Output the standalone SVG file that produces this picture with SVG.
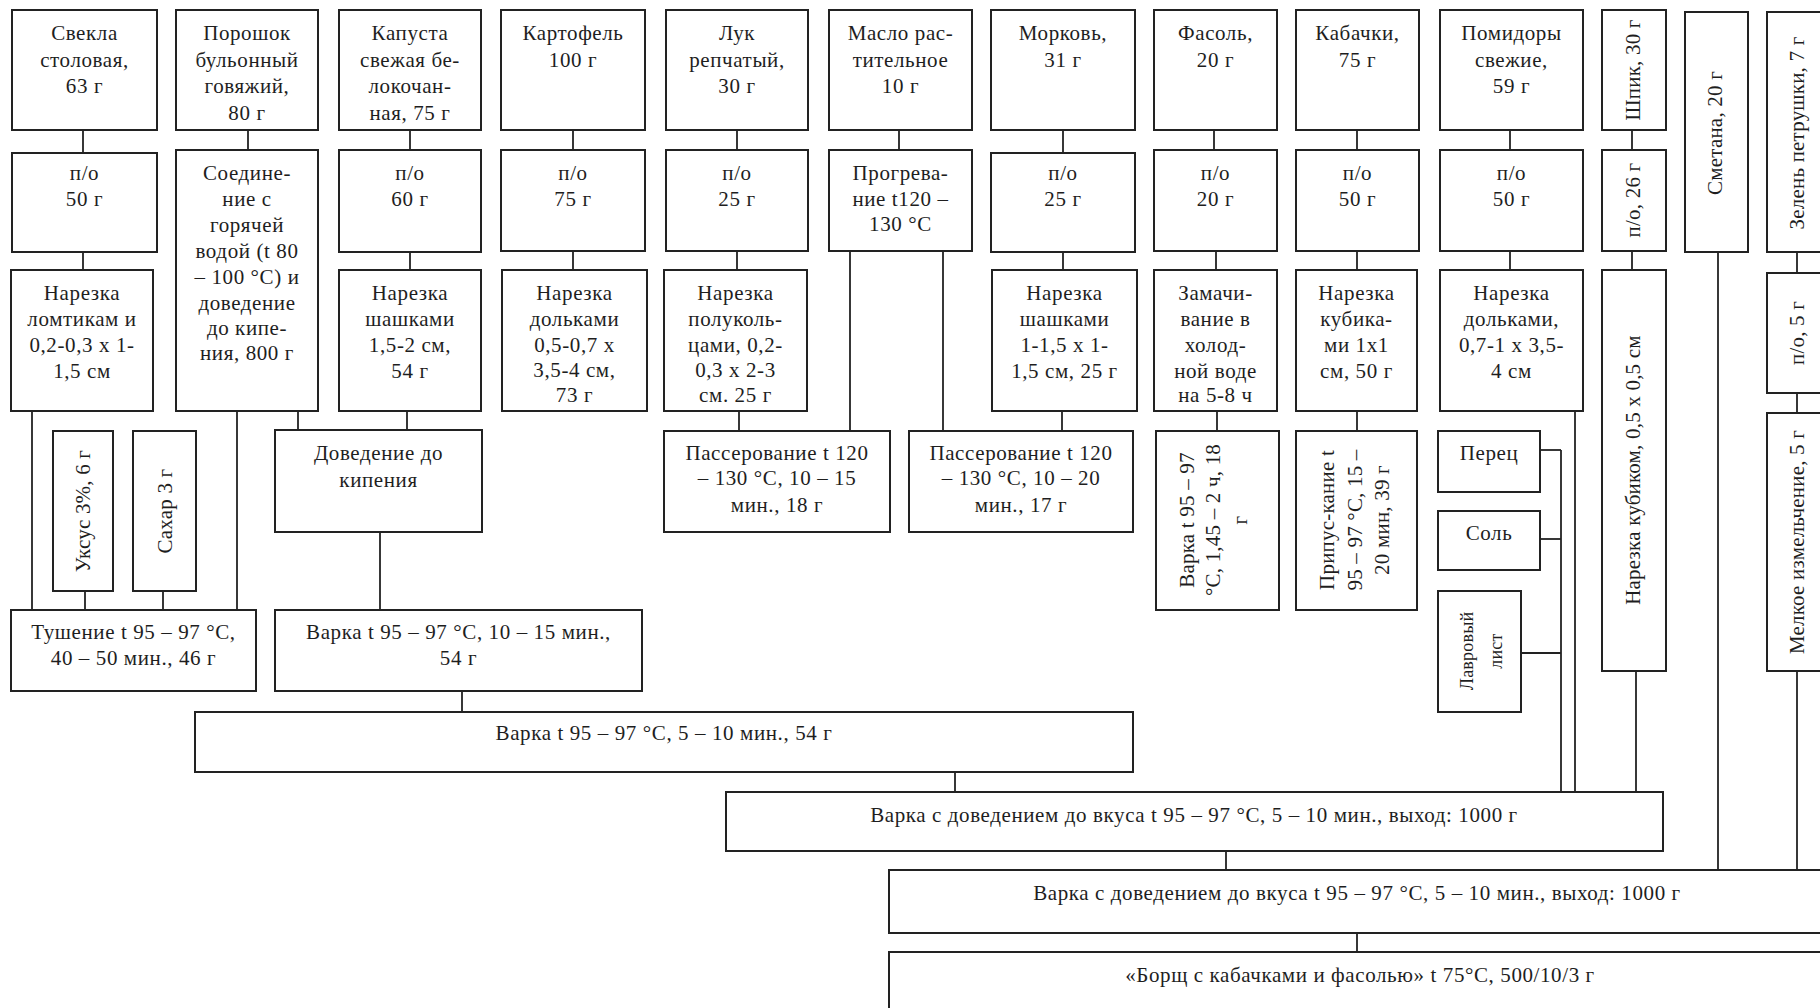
<svg xmlns="http://www.w3.org/2000/svg" width="1820" height="1008" viewBox="0 0 1820 1008">
<style>
.b{fill:#fff;stroke:#222;stroke-width:2}
.t{font-family:"Liberation Serif","Times New Roman",serif;font-size:21px;fill:#1e1e1e;text-anchor:middle;letter-spacing:0.6px}
.r{letter-spacing:0.2px}
.c line{stroke:#222;stroke-width:1.8}
</style>
<rect width="1820" height="1008" fill="#fff"/>
<g class="c" id="connectors">
<line x1="83" y1="130" x2="83" y2="153"/><line x1="83" y1="252" x2="83" y2="270"/>
<line x1="32" y1="411" x2="32" y2="610"/><line x1="85" y1="591" x2="85" y2="610"/><line x1="163" y1="591" x2="163" y2="610"/>
<line x1="248" y1="130" x2="248" y2="150"/><line x1="237" y1="411" x2="237" y2="610"/><line x1="298" y1="411" x2="298" y2="430"/>
<line x1="410" y1="130" x2="410" y2="150"/><line x1="410" y1="252" x2="410" y2="270"/><line x1="407" y1="411" x2="407" y2="430"/>
<line x1="380" y1="532" x2="380" y2="610"/><line x1="462" y1="691" x2="462" y2="712"/>
<line x1="573" y1="130" x2="573" y2="150"/><line x1="573" y1="251" x2="573" y2="270"/>
<line x1="737" y1="130" x2="737" y2="150"/><line x1="737" y1="251" x2="737" y2="270"/><line x1="739" y1="411" x2="739" y2="431"/>
<line x1="899" y1="130" x2="899" y2="150"/><line x1="850" y1="251" x2="850" y2="431"/><line x1="943" y1="251" x2="943" y2="431"/>
<line x1="1063" y1="130" x2="1063" y2="153"/><line x1="1063" y1="252" x2="1063" y2="270"/><line x1="1062" y1="411" x2="1062" y2="431"/>
<line x1="1214" y1="130" x2="1214" y2="150"/><line x1="1216" y1="251" x2="1216" y2="270"/><line x1="1217" y1="411" x2="1217" y2="431"/>
<line x1="1357" y1="130" x2="1357" y2="150"/><line x1="1357" y1="251" x2="1357" y2="270"/><line x1="1357" y1="411" x2="1357" y2="431"/>
<line x1="1510" y1="130" x2="1510" y2="150"/><line x1="1510" y1="251" x2="1510" y2="270"/><line x1="1575" y1="411" x2="1575" y2="792"/>
<line x1="1540" y1="450" x2="1561" y2="450"/><line x1="1561" y1="450" x2="1561" y2="792"/>
<line x1="1540" y1="539" x2="1561" y2="539"/><line x1="1521" y1="653" x2="1561" y2="653"/>
<line x1="1632" y1="130" x2="1632" y2="150"/><line x1="1632" y1="251" x2="1632" y2="270"/><line x1="1636" y1="671" x2="1636" y2="792"/>
<line x1="1718" y1="252" x2="1718" y2="870"/>
<line x1="1797" y1="252" x2="1797" y2="273"/><line x1="1797" y1="393" x2="1797" y2="413"/><line x1="1797" y1="671" x2="1797" y2="870"/>
<line x1="955" y1="772" x2="955" y2="792"/><line x1="1226" y1="851" x2="1226" y2="870"/><line x1="1357" y1="933" x2="1357" y2="952"/>
</g>

<g id="svekla"><rect class="b" x="12" y="10" width="145" height="120"/><text class="t"><tspan x="84.5" y="40">Свекла</tspan><tspan x="84.5" y="67">столовая,</tspan><tspan x="84.5" y="93">63 г</tspan></text></g>
<g id="svekla-po"><rect class="b" x="12" y="153" width="145" height="99"/><text class="t"><tspan x="84.5" y="180">п/о</tspan><tspan x="84.5" y="206">50 г</tspan></text></g>
<g id="svekla-cut"><rect class="b" x="11" y="270" width="142" height="141"/><text class="t"><tspan x="82" y="300">Нарезка</tspan><tspan x="82" y="326">ломтикам и</tspan><tspan x="82" y="352">0,2-0,3 х 1-</tspan><tspan x="82" y="378">1,5 см</tspan></text></g>

<g id="poroshok"><rect class="b" x="176" y="10" width="142" height="120"/><text class="t"><tspan x="247" y="40">Порошок</tspan><tspan x="247" y="67">бульонный</tspan><tspan x="247" y="93">говяжий,</tspan><tspan x="247" y="120">80 г</tspan></text></g>
<g id="poroshok-mix"><rect class="b" x="176" y="150" width="142" height="261"/><text class="t"><tspan x="247" y="180">Соедине-</tspan><tspan x="247" y="206">ние с</tspan><tspan x="247" y="232">горячей</tspan><tspan x="247" y="258">водой (t 80</tspan><tspan x="247" y="284">– 100 °С) и</tspan><tspan x="247" y="310">доведение</tspan><tspan x="247" y="335">до кипе-</tspan><tspan x="247" y="360">ния, 800 г</tspan></text></g>

<g id="kapusta"><rect class="b" x="339" y="10" width="142" height="120"/><text class="t"><tspan x="410" y="40">Капуста</tspan><tspan x="410" y="67">свежая бе-</tspan><tspan x="410" y="93">локочан-</tspan><tspan x="410" y="120">ная, 75 г</tspan></text></g>
<g id="kapusta-po"><rect class="b" x="339" y="150" width="142" height="102"/><text class="t"><tspan x="410" y="180">п/о</tspan><tspan x="410" y="206">60 г</tspan></text></g>
<g id="kapusta-cut"><rect class="b" x="339" y="270" width="142" height="141"/><text class="t"><tspan x="410" y="300">Нарезка</tspan><tspan x="410" y="326">шашками</tspan><tspan x="410" y="352">1,5-2 см,</tspan><tspan x="410" y="378">54 г</tspan></text></g>

<g id="kartofel"><rect class="b" x="501" y="10" width="144" height="120"/><text class="t"><tspan x="573" y="40">Картофель</tspan><tspan x="573" y="67">100 г</tspan></text></g>
<g id="kartofel-po"><rect class="b" x="501" y="150" width="144" height="101"/><text class="t"><tspan x="573" y="180">п/о</tspan><tspan x="573" y="206">75 г</tspan></text></g>
<g id="kartofel-cut"><rect class="b" x="502" y="270" width="145" height="141"/><text class="t"><tspan x="574.5" y="300">Нарезка</tspan><tspan x="574.5" y="326">дольками</tspan><tspan x="574.5" y="352">0,5-0,7 х</tspan><tspan x="574.5" y="377">3,5-4 см,</tspan><tspan x="574.5" y="402">73 г</tspan></text></g>

<g id="luk"><rect class="b" x="666" y="10" width="142" height="120"/><text class="t"><tspan x="737" y="40">Лук</tspan><tspan x="737" y="67">репчатый,</tspan><tspan x="737" y="93">30 г</tspan></text></g>
<g id="luk-po"><rect class="b" x="666" y="150" width="142" height="101"/><text class="t"><tspan x="737" y="180">п/о</tspan><tspan x="737" y="206">25 г</tspan></text></g>
<g id="luk-cut"><rect class="b" x="664" y="270" width="143" height="141"/><text class="t"><tspan x="735.5" y="300">Нарезка</tspan><tspan x="735.5" y="326">полуколь-</tspan><tspan x="735.5" y="352">цами, 0,2-</tspan><tspan x="735.5" y="377">0,3 х 2-3</tspan><tspan x="735.5" y="402">см. 25 г</tspan></text></g>

<g id="maslo"><rect class="b" x="829" y="10" width="143" height="120"/><text class="t"><tspan x="900.5" y="40">Масло рас-</tspan><tspan x="900.5" y="67">тительное</tspan><tspan x="900.5" y="93">10 г</tspan></text></g>
<g id="maslo-heat"><rect class="b" x="829" y="150" width="143" height="101"/><text class="t"><tspan x="900.5" y="180">Прогрева-</tspan><tspan x="900.5" y="206">ние t120 –</tspan><tspan x="900.5" y="231">130 °С</tspan></text></g>

<g id="morkov"><rect class="b" x="991" y="10" width="144" height="120"/><text class="t"><tspan x="1063" y="40">Морковь,</tspan><tspan x="1063" y="67">31 г</tspan></text></g>
<g id="morkov-po"><rect class="b" x="991" y="153" width="144" height="99"/><text class="t"><tspan x="1063" y="180">п/о</tspan><tspan x="1063" y="206">25 г</tspan></text></g>
<g id="morkov-cut"><rect class="b" x="992" y="270" width="145" height="141"/><text class="t"><tspan x="1064.5" y="300">Нарезка</tspan><tspan x="1064.5" y="326">шашками</tspan><tspan x="1064.5" y="352">1-1,5 х 1-</tspan><tspan x="1064.5" y="378">1,5 см, 25 г</tspan></text></g>

<g id="fasol"><rect class="b" x="1154" y="10" width="123" height="120"/><text class="t"><tspan x="1215.5" y="40">Фасоль,</tspan><tspan x="1215.5" y="67">20 г</tspan></text></g>
<g id="fasol-po"><rect class="b" x="1154" y="150" width="123" height="101"/><text class="t"><tspan x="1215.5" y="180">п/о</tspan><tspan x="1215.5" y="206">20 г</tspan></text></g>
<g id="fasol-soak"><rect class="b" x="1154" y="270" width="123" height="141"/><text class="t"><tspan x="1215.5" y="300">Замачи-</tspan><tspan x="1215.5" y="326">вание в</tspan><tspan x="1215.5" y="352">холод-</tspan><tspan x="1215.5" y="378">ной воде</tspan><tspan x="1215.5" y="402">на 5-8 ч</tspan></text></g>

<g id="kabachki"><rect class="b" x="1296" y="10" width="123" height="120"/><text class="t"><tspan x="1357.5" y="40">Кабачки,</tspan><tspan x="1357.5" y="67">75 г</tspan></text></g>
<g id="kabachki-po"><rect class="b" x="1296" y="150" width="123" height="101"/><text class="t"><tspan x="1357.5" y="180">п/о</tspan><tspan x="1357.5" y="206">50 г</tspan></text></g>
<g id="kabachki-cut"><rect class="b" x="1296" y="270" width="121" height="141"/><text class="t"><tspan x="1356.5" y="300">Нарезка</tspan><tspan x="1356.5" y="326">кубика-</tspan><tspan x="1356.5" y="352">ми 1х1</tspan><tspan x="1356.5" y="378">см, 50 г</tspan></text></g>

<g id="pomidory"><rect class="b" x="1440" y="10" width="143" height="120"/><text class="t"><tspan x="1511.5" y="40">Помидоры</tspan><tspan x="1511.5" y="67">свежие,</tspan><tspan x="1511.5" y="93">59 г</tspan></text></g>
<g id="pomidory-po"><rect class="b" x="1440" y="150" width="143" height="101"/><text class="t"><tspan x="1511.5" y="180">п/о</tspan><tspan x="1511.5" y="206">50 г</tspan></text></g>
<g id="pomidory-cut"><rect class="b" x="1440" y="270" width="143" height="141"/><text class="t"><tspan x="1511.5" y="300">Нарезка</tspan><tspan x="1511.5" y="326">дольками,</tspan><tspan x="1511.5" y="352">0,7-1 х 3,5-</tspan><tspan x="1511.5" y="378">4 см</tspan></text></g>

<g id="shpik"><rect class="b" x="1602" y="10" width="64" height="120"/><text class="t r" transform="translate(1634,70) rotate(-90)" x="0" y="6">Шпик, 30 г</text></g>
<g id="shpik-po"><rect class="b" x="1602" y="150" width="64" height="101"/><text class="t r" transform="translate(1634,200) rotate(-90)" x="0" y="6">п/о, 26 г</text></g>
<g id="shpik-cut"><rect class="b" x="1602" y="270" width="64" height="401"/><text class="t r" transform="translate(1634,470) rotate(-90)" x="0" y="6">Нарезка кубиком, 0,5 х 0,5 см</text></g>

<g id="smetana"><rect class="b" x="1685" y="12" width="63" height="240"/><text class="t r" transform="translate(1716,133) rotate(-90)" x="0" y="6">Сметана, 20 г</text></g>

<g id="zelen"><rect class="b" x="1767" y="12" width="60" height="240"/><text class="t r" transform="translate(1797,133) rotate(-90)" x="0" y="7">Зелень петрушки, 7 г</text></g>
<g id="zelen-po"><rect class="b" x="1767" y="273" width="60" height="120"/><text class="t r" transform="translate(1797,333) rotate(-90)" x="0" y="7">п/о, 5 г</text></g>
<g id="zelen-cut"><rect class="b" x="1767" y="413" width="60" height="258"/><text class="t r" transform="translate(1797,542) rotate(-90)" x="0" y="7">Мелкое измельчение, 5 г</text></g>

<g id="uksus"><rect class="b" x="53" y="431" width="60" height="160"/><text class="t r" transform="translate(83,511) rotate(-90)" x="0" y="7">Уксус 3%, 6 г</text></g>
<g id="sahar"><rect class="b" x="133" y="431" width="63" height="160"/><text class="t r" transform="translate(164.5,511) rotate(-90)" x="0" y="7">Сахар 3 г</text></g>

<g id="dovedenie"><rect class="b" x="275" y="430" width="207" height="102"/><text class="t"><tspan x="378.5" y="460">Доведение до</tspan><tspan x="378.5" y="487">кипения</tspan></text></g>
<g id="passer1"><rect class="b" x="664" y="431" width="226" height="101"/><text class="t"><tspan x="777" y="460">Пассерование t 120</tspan><tspan x="777" y="485">– 130 °С, 10 – 15</tspan><tspan x="777" y="512">мин., 18 г</tspan></text></g>
<g id="passer2"><rect class="b" x="909" y="431" width="224" height="101"/><text class="t"><tspan x="1021" y="460">Пассерование t 120</tspan><tspan x="1021" y="485">– 130 °С, 10 – 20</tspan><tspan x="1021" y="512">мин., 17 г</tspan></text></g>

<g id="fasol-boil"><rect class="b" x="1156" y="431" width="123" height="179"/><text class="t r" transform="translate(1217.5,520) rotate(-90)"><tspan x="0" y="-24">Варка t 95 – 97</tspan><tspan x="0" y="2">°С, 1,45 – 2 ч, 18</tspan><tspan x="0" y="29">г</tspan></text></g>
<g id="kabachki-stew"><rect class="b" x="1296" y="431" width="121" height="179"/><text class="t r" transform="translate(1356.5,520) rotate(-90)"><tspan x="0" y="-23">Припус-кание t</tspan><tspan x="0" y="5">95 – 97 °С, 15 –</tspan><tspan x="0" y="32">20 мин, 39 г</tspan></text></g>

<g id="perec"><rect class="b" x="1438" y="431" width="102" height="61"/><text class="t" x="1489" y="460">Перец</text></g>
<g id="sol"><rect class="b" x="1438" y="511" width="102" height="59"/><text class="t" x="1489" y="540">Соль</text></g>
<g id="lavr"><rect class="b" x="1438" y="591" width="83" height="121"/><text class="t r" style="font-size:18px" transform="translate(1479.5,651) rotate(-90)"><tspan x="0" y="-7">Лавровый</tspan><tspan x="0" y="22">лист</tspan></text></g>

<g id="tushenie"><rect class="b" x="11" y="610" width="245" height="81"/><text class="t"><tspan x="133.5" y="639">Тушение t 95 – 97 °С,</tspan><tspan x="133.5" y="665">40 – 50 мин., 46 г</tspan></text></g>
<g id="varka1"><rect class="b" x="275" y="610" width="367" height="81"/><text class="t"><tspan x="458.5" y="639">Варка t 95 – 97 °С, 10 – 15 мин.,</tspan><tspan x="458.5" y="665">54 г</tspan></text></g>
<g id="varka2"><rect class="b" x="195" y="712" width="938" height="60"/><text class="t" x="664" y="740">Варка t 95 – 97 °С, 5 – 10 мин., 54 г</text></g>
<g id="varka3"><rect class="b" x="726" y="792" width="937" height="59"/><text class="t" x="1194" y="822">Варка с доведением до вкуса t 95 – 97 °С, 5 – 10 мин., выход: 1000 г</text></g>
<g id="varka4"><rect class="b" x="889" y="870" width="936" height="63"/><text class="t" x="1357" y="900">Варка с доведением до вкуса t 95 – 97 °С, 5 – 10 мин., выход: 1000 г</text></g>
<g id="borsch"><rect class="b" x="889" y="952" width="936" height="70"/><text class="t" x="1360" y="982">«Борщ с кабачками и фасолью» t 75°С, 500/10/3 г</text></g>
</svg>
